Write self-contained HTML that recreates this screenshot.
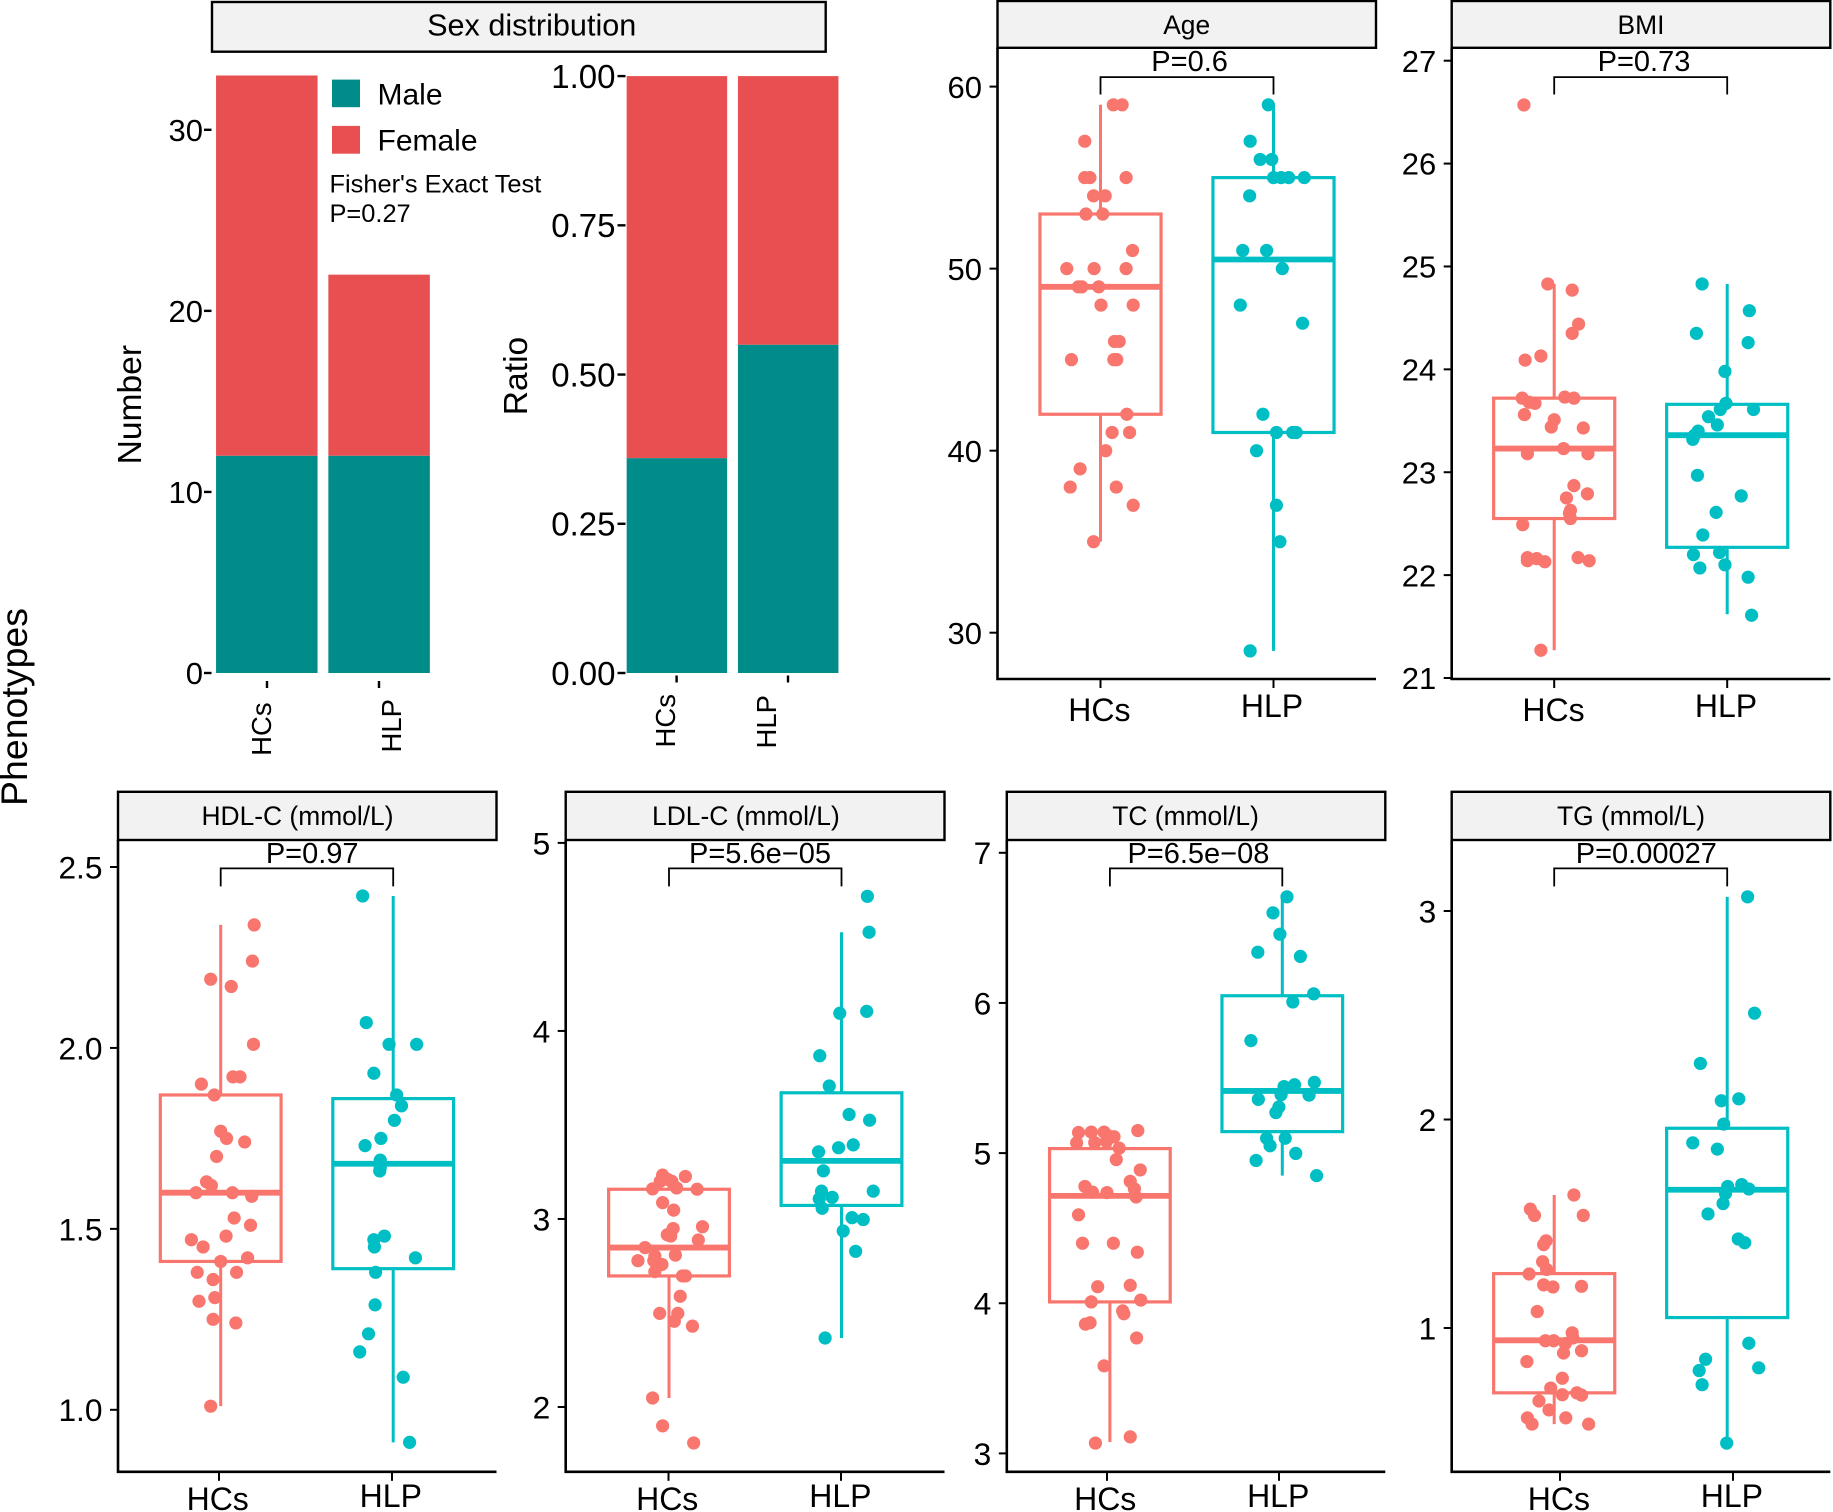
<!DOCTYPE html>
<html lang="en">
<head>
<meta charset="utf-8">
<title>Phenotypes</title>
<style>
html,body{margin:0;padding:0;background:#fff;width:1833px;height:1512px;overflow:hidden}
svg{display:block}
text{font-family:"Liberation Sans",Arial,sans-serif;fill:#000}
.strip{fill:#f2f2f2;stroke:#000;stroke-width:2.4}
.stitle{font-size:26.4px;text-anchor:middle}
.plabel{font-size:29px;text-anchor:middle}
.bracket{fill:none;stroke:#000;stroke-width:1.8}
.axis{fill:none;stroke:#000;stroke-width:2.6}
</style>
</head>
<body>
<svg id="figure" xmlns="http://www.w3.org/2000/svg" width="1833" height="1512" viewBox="0 0 1833 1512">
<rect width="1833" height="1512" fill="#fff"/>

<text transform="translate(27,707) rotate(-90)" text-anchor="middle" font-size="37.5">Phenotypes</text>

<g>
<rect class="strip" x="212" y="2" width="613.7" height="49.7"/>
<text x="531.7" y="35.5" font-size="30.6" text-anchor="middle">Sex distribution</text>
<text transform="translate(140.8,404.7) rotate(-90)" text-anchor="middle" font-size="33.6">Number</text>
<text transform="translate(527,376) rotate(-90)" text-anchor="middle" font-size="33.6">Ratio</text>
<rect x="332" y="79.6" width="28" height="27.6" fill="#018c89"/>
<text x="377.5" y="104.3" font-size="30">Male</text>
<rect x="332" y="125.9" width="28" height="27.8" fill="#e84f50"/>
<text x="377.5" y="150.5" font-size="30">Female</text>
<text x="329.5" y="192.3" font-size="25.4">Fisher's Exact Test</text>
<text x="329.5" y="222.2" font-size="25.4">P=0.27</text>
<g id="bars"></g>
</g>

<g>
<rect class="strip" x="997.5" y="1" width="378.5" height="46.8"/>
<text class="stitle" x="1186.7" y="33.8">Age</text>
<path class="bracket" d="M1100.5 94.5V77.1H1273.5V94.5"/>
<text class="plabel" x="1189.6" y="71">P=0.6</text>
<path class="axis" d="M997.5 47.8V679H1376"/>
</g>
<g>
<rect class="strip" x="1451.7" y="1" width="378.6" height="46.8"/>
<text class="stitle" x="1641" y="33.8">BMI</text>
<path class="bracket" d="M1554.2 94.5V77.1H1727.2V94.5"/>
<text class="plabel" x="1644" y="71">P=0.73</text>
<path class="axis" d="M1451.7 47.8V679H1830.3"/>
</g>
<g>
<rect class="strip" x="118" y="791.8" width="378.5" height="48.2"/>
<text class="stitle" x="297.5" y="825.2">HDL-C (mmol/L)</text>
<path class="bracket" d="M220.7 886.4V868.4H393.2V886.4"/>
<text class="plabel" x="312.2" y="863">P=0.97</text>
<path class="axis" d="M118 840V1471.8H496.5"/>
</g>
<g>
<rect class="strip" x="565.7" y="791.8" width="378.8" height="48.2"/>
<text class="stitle" x="745.9" y="825.2">LDL-C (mmol/L)</text>
<path class="bracket" d="M669 886.4V868.4H841.5V886.4"/>
<text class="plabel" x="760" y="863">P=5.6e−05</text>
<path class="axis" d="M565.7 840V1471.8H944.5"/>
</g>
<g>
<rect class="strip" x="1006.8" y="791.8" width="378.5" height="48.2"/>
<text class="stitle" x="1185.6" y="825.2">TC (mmol/L)</text>
<path class="bracket" d="M1109.9 886.4V868.4H1282.3V886.4"/>
<text class="plabel" x="1198.4" y="863">P=6.5e−08</text>
<path class="axis" d="M1006.8 840V1471.8H1385.3"/>
</g>
<g>
<rect class="strip" x="1451.7" y="791.8" width="378.6" height="48.2"/>
<text class="stitle" x="1631" y="825.2">TG (mmol/L)</text>
<path class="bracket" d="M1554.2 886.4V868.4H1727.2V886.4"/>
<text class="plabel" x="1646.3" y="863">P=0.00027</text>
<path class="axis" d="M1451.7 840V1471.8H1830.3"/>
</g>
<g id="plots"></g>
</svg>

<script>
const categories = ['HCs', 'HLP'];

const maleCounts = [12, 12];
const femaleCounts = [21, 10];
const countTicks = [0, 10, 20, 30];
const countTickLabels = ['0', '10', '20', '30'];
const maleRatios = [0.36, 0.55];
const femaleRatios = [0.64, 0.45];
const ratioTicks = [0, 0.25, 0.5, 0.75, 1];
const ratioTickLabels = ['0.00', '0.25', '0.50', '0.75', '1.00'];

const ageTicks = [30, 40, 50, 60];
const ageTickLabels = ['30', '40', '50', '60'];
const ageHcsValues = [59,59,57,55,55,55,54,54,53,53,51,50,50,50,49,49,49,48,48,46,46,45,45,45,42,41,41,40,39,38,38,37,35];
const ageHcsJitter = [.074,.125,-.091,-.091,-.061,.148,-.040,.027,-.084,.013,.185,-.195,-.037,.148,-.128,-.108,-.010,.003,.189,.081,.108,-.168,.077,.094,.152,.067,.168,.030,-.118,-.175,.091,.189,-.040];
const ageHcsBox = [35, 42, 49, 53, 59];
const ageHlpValues = [59,57,56,56,55,55,55,55,54,51,51,50,48,47,42,41,41,41,40,37,35,29];
const ageHlpJitter = [-.030,-.135,-.077,-.010,0,.044,.088,.178,-.138,-.178,-.040,.051,-.192,.168,-.061,.017,.111,.131,-.098,.017,.037,-.135];
const ageHlpBox = [29, 41, 50.5, 55, 59];

const bmiTicks = [21, 22, 23, 24, 25, 26, 27];
const bmiTickLabels = ['21', '22', '23', '24', '25', '26', '27'];
const bmiHcsValues = [26.57,24.83,24.77,24.44,24.35,24.13,24.09,23.72,23.68,23.67,23.73,23.72,23.56,23.51,23.44,23.43,23.23,23.18,23.18,22.87,22.79,22.75,22.63,22.60,22.55,22.49,22.17,22.14,22.17,22.14,22.16,22.13,21.27];
const bmiHcsJitter = [-.175,-.037,.104,.141,.104,-.077,-.168,-.185,-.145,-.111,.061,.114,-.172,0,-.017,.168,.054,-.155,.195,.114,.192,.071,.094,.088,.094,-.182,.138,.202,-.155,-.155,-.101,-.054,-.077];
const bmiHcsBox = [21.27, 22.55, 23.23, 23.72, 24.83];
const bmiHlpValues = [24.83,24.57,24.35,24.26,23.98,23.67,23.61,23.61,23.54,23.46,23.40,23.36,23.32,22.97,22.77,22.61,22.39,22.20,22.22,22.10,22.07,21.98,21.61];
const bmiHlpJitter = [-.145,.128,-.178,.121,-.013,-.007,-.040,.152,-.108,-.057,-.168,-.189,-.199,-.172,.081,-.064,-.141,-.195,-.044,-.013,-.158,.121,.141];
const bmiHlpBox = [21.62, 22.27, 23.36, 23.66, 24.83];

const hdlTicks = [1, 1.5, 2, 2.5];
const hdlTickLabels = ['1.0', '1.5', '2.0', '2.5'];
const hdlHcsValues = [2.34,2.24,2.19,2.17,2.01,1.92,1.92,1.90,1.87,1.77,1.75,1.74,1.70,1.63,1.62,1.60,1.60,1.59,1.53,1.51,1.48,1.47,1.45,1.42,1.41,1.38,1.38,1.36,1.31,1.30,1.25,1.24,1.01];
const hdlHcsJitter = [.194,.184,-.058,.061,.190,.071,.112,-.112,-.037,0,.034,.139,-.024,-.082,-.054,-.143,.068,.180,.078,.173,.031,-.170,-.102,.156,0,-.136,.092,-.044,-.034,-.126,-.044,.088,-.058];
const hdlHcsBox = [1.01, 1.41, 1.60, 1.87, 2.34];
const hdlHlpValues = [2.42,2.07,2.01,2.01,1.93,1.87,1.84,1.80,1.75,1.73,1.69,1.67,1.66,1.48,1.47,1.45,1.42,1.38,1.29,1.21,1.16,1.09,.91];
const hdlHlpJitter = [-.177,-.156,-.024,.136,-.112,.020,.048,.007,-.071,-.163,-.075,-.075,-.078,-.051,-.112,-.109,.129,-.102,-.105,-.143,-.194,.058,.095];
const hdlHlpBox = [.91, 1.39, 1.68, 1.86, 2.42];

const ldlTicks = [2, 3, 4, 5];
const ldlTickLabels = ['2', '3', '4', '5'];
const ldlHcsValues = [3.233,3.226,3.21,3.20,3.20,3.16,3.165,3.158,3.087,3.047,2.949,2.959,2.916,2.909,2.888,2.848,2.803,2.808,2.778,2.778,2.758,2.72,2.697,2.697,2.589,2.498,2.498,2.456,2.43,2.048,1.90,1.809];
const ldlHcsJitter = [-.037,.095,-.007,-.051,.017,-.095,.044,.163,-.037,.027,.024,.194,-.010,.010,.170,-.139,-.082,.037,-.180,-.088,-.041,-.082,.078,.095,.065,-.054,.051,.031,.136,-.095,-.037,.143];
const ldlHcsBox = [2.048, 2.697, 2.848, 3.158, 3.233];
const ldlHlpValues = [4.716,4.525,4.094,4.104,3.868,3.707,3.556,3.525,3.394,3.379,3.357,3.256,3.148,3.148,3.115,3.107,3.057,3.007,2.997,2.936,2.828,2.367];
const ldlHlpJitter = [.150,.160,-.010,.146,-.126,-.071,.044,.163,.068,-.017,-.133,-.105,.184,-.116,-.054,-.129,-.112,.061,.126,.010,.082,-.095];
const ldlHlpBox = [2.367, 3.072, 3.309, 3.671, 4.525];

const tcTicks = [3, 4, 5, 6, 7];
const tcTickLabels = ['3', '4', '5', '6', '7'];
const tcHcsValues = [5.137,5.14,5.14,5.15,5.109,5.118,5.068,5.07,5.077,5.033,4.957,4.888,4.778,4.812,4.74,4.737,4.762,4.708,4.589,4.40,4.40,4.34,4.11,4.119,4.009,4.021,3.949,3.93,3.87,3.861,3.769,3.583,3.11,3.069];
const tcHcsJitter = [-.182,-.108,-.034,.162,.024,-.014,-.193,-.088,-.020,.054,.037,.176,-.145,.118,-.101,-.017,.142,.152,-.182,-.159,.020,.159,-.071,.118,-.108,.179,.074,.081,-.115,-.142,.155,-.034,.118,-.084];
const tcHcsBox = [3.076, 4.009, 4.715, 5.03, 5.15];
const tcHlpValues = [6.707,6.60,6.458,6.338,6.31,6.061,6.007,5.749,5.471,5.455,5.443,5.389,5.386,5.358,5.307,5.27,5.099,5.099,5.049,4.998,4.951,4.85];
const tcHlpJitter = [.027,-.054,-.014,-.142,.105,.182,.061,-.182,.186,.071,.010,-.007,.155,-.139,-.020,-.037,-.091,.017,-.071,.078,-.152,.199];
const tcHlpBox = [4.85, 5.143, 5.414, 6.048, 6.707];

const tgTicks = [1, 2, 3];
const tgTickLabels = ['1', '2', '3'];
const tgHcsValues = [1.638,1.57,1.54,1.54,1.418,1.40,1.318,1.281,1.259,1.207,1.197,1.20,1.079,.977,.939,.939,.925,.952,.891,.88,.839,.759,.712,.68,.689,.678,.65,.607,.569,.539,.569,.539];
const tgHcsJitter = [.114,-.138,-.114,.168,-.047,-.061,-.067,-.044,-.145,-.061,-.007,.158,-.098,.104,-.051,-.003,.064,.108,.158,.054,-.158,.047,-.020,.047,.131,.158,-.088,-.030,-.155,-.128,.067,.199];
const tgHcsBox = [.539, .689, .941, 1.261, 1.638];
const tgHlpValues = [3.068,2.51,2.269,2.099,2.09,1.978,1.888,1.858,1.688,1.679,1.667,1.645,1.597,1.547,1.427,1.409,.927,.85,.809,.796,.728,.448];
const tgHlpJitter = [.118,.158,-.155,.067,-.034,-.020,-.199,-.057,.084,.003,.125,-.010,-.024,-.111,.064,.101,.125,-.125,.182,-.162,-.145,-.003];
const tgHlpBox = [.448, 1.05, 1.663, 1.958, 3.068];

const NS = 'http://www.w3.org/2000/svg';
const HCS_COLOR = '#F8766D';
const HLP_COLOR = '#00BFC4';

function mk(parent, tag, attrs, content) {
  const el = document.createElementNS(NS, tag);
  for (const k in attrs) el.setAttribute(k, attrs[k]);
  if (content !== undefined) el.textContent = content;
  parent.appendChild(el);
  return el;
}
function linear(d0, d1, r0, r1) {
  return v => r0 + (v - d0) * (r1 - r0) / (d1 - d0);
}

const bars = document.getElementById('bars');
function drawBars(key, male, female, ticks, labels, y, opts) {
  categories.forEach((c, i) => {
    const x = opts.centers[i] - opts.width / 2;
    const m = mk(bars, 'rect', {x: x, y: y(male[i]), width: opts.width, height: y(0) - y(male[i]), fill: '#018c89'});
    
    
    const f = mk(bars, 'rect', {x: x, y: y(male[i] + female[i]), width: opts.width, height: y(male[i]) - y(male[i] + female[i]), fill: '#e84f50'});
    
    
    const t = mk(bars, 'line', {x1: opts.tickX[i], x2: opts.tickX[i], y1: opts.xTickY[0], y2: opts.xTickY[1], stroke: '#000', 'stroke-width': 2.4});
    
    
    const l = mk(bars, 'text', {transform: 'translate(' + opts.labelX[i] + ',' + opts.labelY[i] + ') rotate(-90)', 'text-anchor': 'end', 'font-size': 27.5}, c);
    
    
  });
  ticks.forEach((v, i) => {
    const t = mk(bars, 'line', {x1: opts.yTick[0], x2: opts.yTick[1], y1: y(v), y2: y(v), stroke: '#000', 'stroke-width': 2.4});
    
    
    const l = mk(bars, 'text', {x: opts.yLabelX, y: y(v) + opts.fs * 0.36, 'text-anchor': 'end', 'font-size': opts.fs}, labels[i]);
    
    
  });
}
drawBars('count', maleCounts, femaleCounts, countTicks, countTickLabels, linear(0, 30, 673, 129.8), {
  centers: [266.8, 379.1], width: 101.5, tickX: [267, 379], xTickY: [681, 688],
  labelX: [271, 400.8], labelY: [702.4, 699], yTick: [204, 211.5], yLabelX: 203, fs: 31
});
drawBars('ratio', maleRatios, femaleRatios, ratioTicks, ratioTickLabels, linear(0, 1, 673, 76.1), {
  centers: [676.9, 788.2], width: 100.5, tickX: [676.6, 788], xTickY: [675.5, 682.5],
  labelX: [674.9, 775.8], labelY: [694, 695], yTick: [617.5, 625.5], yLabelX: 615.5, fs: 33
});

const plots = document.getElementById('plots');
function drawGroup(g, key, cat, color, cx, unit, y, box, values, jitter) {
  const hw = unit * 0.35;
  const upper = mk(g, 'line', {x1: cx, x2: cx, y1: y(box[3]), y2: y(box[4]), stroke: color, 'stroke-width': 3});
  
  
  const lower = mk(g, 'line', {x1: cx, x2: cx, y1: y(box[1]), y2: y(box[0]), stroke: color, 'stroke-width': 3});
  
  
  const rect = mk(g, 'rect', {x: cx - hw, y: y(box[3]), width: hw * 2, height: y(box[1]) - y(box[3]), fill: 'none', stroke: color, 'stroke-width': 3.2});
  
  
  const med = mk(g, 'line', {x1: cx - hw, x2: cx + hw, y1: y(box[2]), y2: y(box[2]), stroke: color, 'stroke-width': 5.8});
  
  
  values.forEach((v, i) => {
    const dot = mk(g, 'circle', {cx: cx + jitter[i] * unit, cy: y(v), r: 6.6, fill: color});
    
    
  });
}
function drawPanel(p) {
  const g = mk(plots, 'g', {});
  
  
  const y = linear(p.domain[0], p.domain[1], p.range[0], p.range[1]);
  const unit = p.hlpX - p.hcsX;
  p.ticks.forEach((v, i) => {
    const t = mk(g, 'line', {x1: p.left - 8, x2: p.left, y1: y(v), y2: y(v), stroke: '#000', 'stroke-width': 2});
    
    
    const l = mk(g, 'text', {x: p.left - 15.5, y: y(v) + p.fs * 0.36, 'text-anchor': 'end', 'font-size': p.fs}, p.labels[i]);
    
    
  });
  categories.forEach((c, i) => {
    const t = mk(g, 'line', {x1: p.xTicks[i], x2: p.xTicks[i], y1: p.bottom, y2: p.bottom + 9, stroke: '#000', 'stroke-width': 2});
    
    
    const l = mk(g, 'text', {x: p.xLabels[i], y: p.xBase[i], 'text-anchor': 'middle', 'font-size': 32}, c);
    
    
  });
  drawGroup(g, p.key, 'hcs', HCS_COLOR, p.hcsX, unit, y, p.hcsBox, p.hcsValues, p.hcsJitter);
  drawGroup(g, p.key, 'hlp', HLP_COLOR, p.hlpX, unit, y, p.hlpBox, p.hlpValues, p.hlpJitter);
}
const TOP = 679, BOT = 1471.8, TOP_BASE = [721, 717], BOT_BASE = [1510, 1507];
drawPanel({key: 'age', fs: 31, left: 997.5, bottom: TOP, domain: [30, 60], range: [632.7, 86.6], hcsX: 1100.5, hlpX: 1273.5,
  xTicks: [1100.5, 1273.5], xLabels: [1099.4, 1272], xBase: TOP_BASE, ticks: ageTicks, labels: ageTickLabels,
  hcsBox: ageHcsBox, hcsValues: ageHcsValues, hcsJitter: ageHcsJitter, hlpBox: ageHlpBox, hlpValues: ageHlpValues, hlpJitter: ageHlpJitter});
drawPanel({key: 'bmi', fs: 31, left: 1451.7, bottom: TOP, domain: [21, 27], range: [678, 60.7], hcsX: 1554.2, hlpX: 1727.2,
  xTicks: [1554.2, 1727.2], xLabels: [1553.5, 1726], xBase: TOP_BASE, ticks: bmiTicks, labels: bmiTickLabels,
  hcsBox: bmiHcsBox, hcsValues: bmiHcsValues, hcsJitter: bmiHcsJitter, hlpBox: bmiHlpBox, hlpValues: bmiHlpValues, hlpJitter: bmiHlpJitter});
drawPanel({key: 'hdl', fs: 31.7, left: 118, bottom: BOT, domain: [1, 2.5], range: [1409.8, 867], hcsX: 220.7, hlpX: 393.2,
  xTicks: [219, 392], xLabels: [217.7, 390.8], xBase: BOT_BASE, ticks: hdlTicks, labels: hdlTickLabels,
  hcsBox: hdlHcsBox, hcsValues: hdlHcsValues, hcsJitter: hdlHcsJitter, hlpBox: hdlHlpBox, hlpValues: hdlHlpValues, hlpJitter: hdlHlpJitter});
drawPanel({key: 'ldl', fs: 31.7, left: 565.7, bottom: BOT, domain: [2, 5], range: [1407, 842.9], hcsX: 669, hlpX: 841.5,
  xTicks: [668.5, 841], xLabels: [667.2, 840.4], xBase: BOT_BASE, ticks: ldlTicks, labels: ldlTickLabels,
  hcsBox: ldlHcsBox, hcsValues: ldlHcsValues, hcsJitter: ldlHcsJitter, hlpBox: ldlHlpBox, hlpValues: ldlHlpValues, hlpJitter: ldlHlpJitter});
drawPanel({key: 'tc', fs: 31.7, left: 1006.8, bottom: BOT, domain: [3, 7], range: [1453.4, 852.8], hcsX: 1109.9, hlpX: 1282.3,
  xTicks: [1107, 1279], xLabels: [1105.2, 1278.2], xBase: BOT_BASE, ticks: tcTicks, labels: tcTickLabels,
  hcsBox: tcHcsBox, hcsValues: tcHcsValues, hcsJitter: tcHcsJitter, hlpBox: tcHlpBox, hlpValues: tcHlpValues, hlpJitter: tcHlpJitter});
drawPanel({key: 'tg', fs: 31.7, left: 1451.7, bottom: BOT, domain: [1, 3], range: [1328, 911], hcsX: 1554.2, hlpX: 1727.2,
  xTicks: [1560, 1733], xLabels: [1558.9, 1731.9], xBase: BOT_BASE, ticks: tgTicks, labels: tgTickLabels,
  hcsBox: tgHcsBox, hcsValues: tgHcsValues, hcsJitter: tgHcsJitter, hlpBox: tgHlpBox, hlpValues: tgHlpValues, hlpJitter: tgHlpJitter});
</script>
</body>
</html>
